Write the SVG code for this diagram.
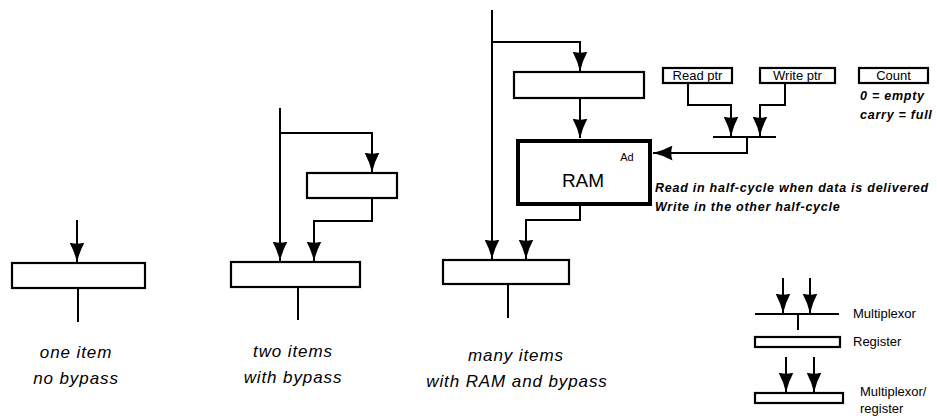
<svg xmlns="http://www.w3.org/2000/svg" width="937" height="418" viewBox="0 0 937 418">
<style>
.ln{fill:none;stroke:#000;stroke-width:2}
.bx{fill:#fff;stroke:#000;stroke-width:2.2}
.ram{fill:#fff;stroke:#000;stroke-width:4}
.cap{font-family:"Liberation Sans",Arial,sans-serif;font-style:italic;font-size:17px;letter-spacing:0.9px;text-anchor:middle}
.lab{font-family:"Liberation Sans",Arial,sans-serif;font-size:13px}
.note{font-family:"Liberation Sans",Arial,sans-serif;font-style:italic;font-weight:bold;font-size:12.5px;letter-spacing:0.75px}
</style>
<defs>
<marker id="ah" markerUnits="userSpaceOnUse" viewBox="0 0 20 15" refX="19.5" refY="7.5" markerWidth="20" markerHeight="15" orient="auto">
<path d="M0,0 Q9,5 20,7.5 Q9,10 0,15 Q2.5,7.5 0,0 Z" fill="#000"/>
</marker>
</defs>
<g id="connectors" class="ln">
<path d="M77,220 V262" marker-end="url(#ah)"/>
<path d="M78,288 V322"/>
<path d="M280,108 V261" marker-end="url(#ah)"/>
<path d="M280,133 H372 V172" marker-end="url(#ah)"/>
<path d="M372,198 V221 H314 V261" marker-end="url(#ah)"/>
<path d="M298,287 V320"/>
<path d="M492,10 V259" marker-end="url(#ah)"/>
<path d="M492,42 H580 V71" marker-end="url(#ah)"/>
<path d="M580,98 V138" marker-end="url(#ah)"/>
<path d="M580,206 V220 H526 V259" marker-end="url(#ah)"/>
<path d="M508,284 V318"/>
<path d="M688,83 V105 H731 V136" marker-end="url(#ah)"/>
<path d="M785,83 V105 H760 V136" marker-end="url(#ah)"/>
<path d="M713,137 H776"/>
<path d="M747,137 V153 H653" marker-end="url(#ah)"/>
<path d="M783,278 V313" marker-end="url(#ah)"/>
<path d="M810,278 V313" marker-end="url(#ah)"/>
<path d="M755,314 H839"/>
<path d="M798,314 V330"/>
<path d="M786,357 V392" marker-end="url(#ah)"/>
<path d="M814,357 V392" marker-end="url(#ah)"/>
</g>
<g id="reg1"><rect class="bx" x="12" y="263" width="133" height="25"/></g>
<g id="reg2a"><rect class="bx" x="307" y="173" width="90" height="25"/></g>
<g id="reg2b"><rect class="bx" x="231" y="262" width="129" height="25"/></g>
<g id="reg3a"><rect class="bx" x="514" y="72" width="130" height="26"/></g>
<g id="ram"><rect class="ram" x="518" y="141" width="132" height="63"/>
<text x="583" y="187" font-family="Liberation Sans,Arial,sans-serif" font-size="19" text-anchor="middle">RAM</text>
<text x="627" y="161" font-family="Liberation Sans,Arial,sans-serif" font-size="11" text-anchor="middle">Ad</text></g>
<g id="reg3b"><rect class="bx" x="443" y="260" width="126" height="24"/></g>
<g id="readptr"><rect class="bx" x="663" y="68" width="69" height="15"/><text class="lab" x="697.5" y="80" text-anchor="middle">Read ptr</text></g>
<g id="writeptr"><rect class="bx" x="760" y="68" width="75" height="15"/><text class="lab" x="797.5" y="80" text-anchor="middle">Write ptr</text></g>
<g id="count"><rect class="bx" x="859" y="68" width="69" height="15"/><text class="lab" x="893.5" y="80" text-anchor="middle">Count</text>
<text class="note" x="860" y="100">0 = empty</text>
<text class="note" x="860" y="119">carry = full</text></g>
<g id="ramnote">
<text class="note" x="655" y="192">Read in half-cycle when data is delivered</text>
<text class="note" x="655" y="211">Write in the other half-cycle</text></g>
<g id="captions">
<text class="cap" x="76" y="358">one item</text>
<text class="cap" x="76" y="384">no bypass</text>
<text class="cap" x="293" y="357">two items</text>
<text class="cap" x="293" y="383">with bypass</text>
<text class="cap" x="516" y="361">many items</text>
<text class="cap" x="517" y="387">with RAM and bypass</text></g>
<g id="legend">
<rect class="bx" x="755" y="337" width="85" height="10"/>
<rect class="bx" x="755" y="393" width="88" height="10"/>
<text class="lab" x="853" y="318">Multiplexor</text>
<text class="lab" x="853" y="346">Register</text>
<text class="lab" x="860" y="396">Multiplexor/</text>
<text class="lab" x="860" y="413">register</text></g>
</svg>
